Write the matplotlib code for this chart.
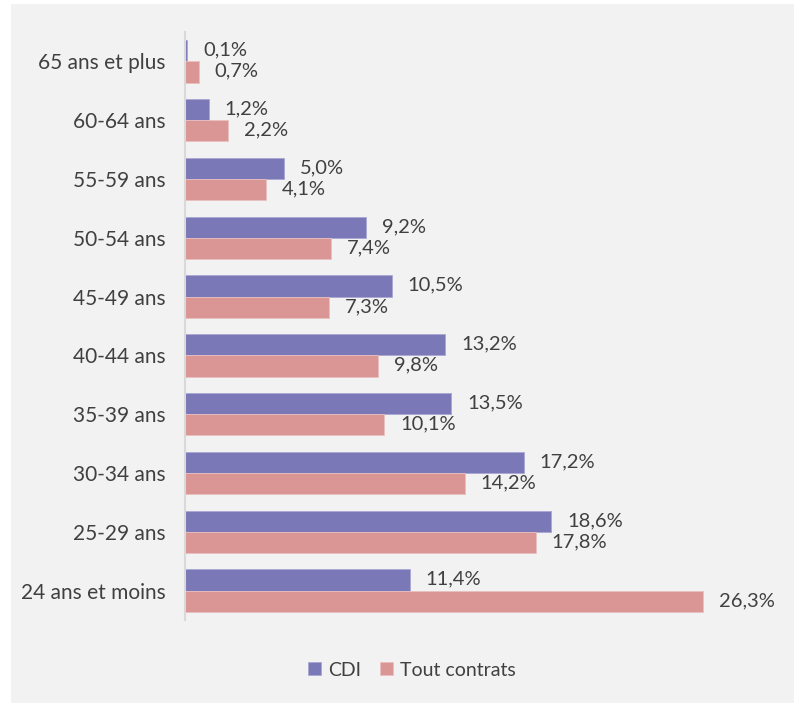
import numpy as np
import matplotlib.pyplot as plt
from matplotlib.patches import Rectangle

# Age groups (top to bottom) and shares in %
categories = ['65 ans et plus', '60-64 ans', '55-59 ans', '50-54 ans', '45-49 ans',
              '40-44 ans', '35-39 ans', '30-34 ans', '25-29 ans', '24 ans et moins']
cdi = [0.1, 1.2, 5.0, 9.2, 10.5, 13.2, 13.5, 17.2, 18.6, 11.4]
tout_contrats = [0.7, 2.2, 4.1, 7.4, 7.3, 9.8, 10.1, 14.2, 17.8, 26.3]
series_names = ['CDI', 'Tout contrats']

col_cdi = '#7B78B8'
col_tout = '#DA9694'
txt_col = '#404040'

plt.rcParams['font.family'] = ['Lato', 'DejaVu Sans']

fig = plt.figure(figsize=(7.94, 7.03), dpi=100)
fig.patch.set_facecolor('white')
# grey background panel, kept behind the axes
fig.add_artist(Rectangle((11 / 794, 0), 1 - 11 / 794, 1 - 3.5 / 703,
                         transform=fig.transFigure, facecolor='#F2F2F2',
                         edgecolor='none', zorder=-10))

ax = fig.add_axes([185 / 794, 1 - 620 / 703, 591 / 794, 588 / 703])
ax.set_facecolor('none')
ax.set_zorder(1)

y = np.arange(len(categories))
h = 0.36
b1 = ax.barh(y - h / 2, cdi, height=h, color=col_cdi, label=series_names[0],
             edgecolor='#A9A7D3', linewidth=0.6)
b2 = ax.barh(y + h / 2, tout_contrats, height=h, color=col_tout, label=series_names[1],
             edgecolor='#E9C0BF', linewidth=0.6)

for bars, vals in ((b1, cdi), (b2, tout_contrats)):
    for bar, v in zip(bars, vals):
        ax.annotate(f'{v:.1f}%'.replace('.', ','),
                    (bar.get_width(), bar.get_y() + bar.get_height() / 2),
                    xytext=(11.5, 0.5), textcoords='offset points',
                    ha='left', va='center', fontsize=14.5, color=txt_col)

ax.set_xlim(0, 30)
ax.set_ylim(len(categories) - 0.5, -0.5)
ax.set_yticks(y)
ax.set_yticklabels(categories, fontsize=15, color=txt_col)
ax.tick_params(axis='y', length=0, pad=14)
ax.set_xticks([])
for s in ('top', 'right', 'bottom'):
    ax.spines[s].set_visible(False)
ax.spines['left'].set_color('#D9D9D9')
ax.spines['left'].set_linewidth(1.5)

leg = fig.legend(handles=[b1, b2], labels=series_names, loc='center',
                 bbox_to_anchor=(412 / 794, 1 - 670 / 703), ncol=2, frameon=False,
                 fontsize=14, handlelength=0.65, handleheight=0.65,
                 handletextpad=0.35, columnspacing=1.0)
for t in leg.get_texts():
    t.set_color(txt_col)

fig.savefig('out.png', dpi=100, facecolor=fig.get_facecolor())
